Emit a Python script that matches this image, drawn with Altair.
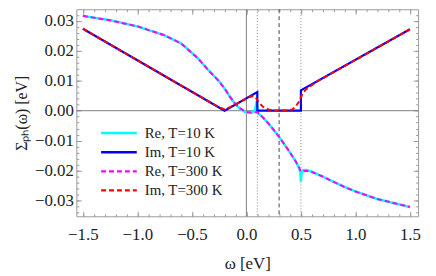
import altair as alt
import pandas as pd

# ---------------- data ----------------
omega_re300 = [-1.5, -1.25, -1.0, -0.75, -0.6, -0.45, -0.35, -0.25, -0.2, -0.15, -0.1, -0.05, 0.0,
               0.05, 0.1, 0.15, 0.2, 0.25, 0.3, 0.35, 0.4, 0.45, 0.48, 0.5, 0.55, 0.6, 0.7, 0.8,
               0.9, 1.0, 1.2, 1.5]
re_300 = [0.0317, 0.0302, 0.0282, 0.0252, 0.0225, 0.0177, 0.0136, 0.0098, 0.0074, 0.0046, 0.0022,
          0.0006, -0.0004, -0.0006, -0.0005, -0.0022, -0.0042, -0.0064, -0.0088, -0.0113, -0.014,
          -0.0168, -0.0187, -0.0203, -0.0201, -0.0205, -0.022, -0.0238, -0.0255, -0.027, -0.0295,
          -0.0322]

omega_re10 = [-1.5, -1.25, -1.0, -0.75, -0.6, -0.45, -0.35, -0.25, -0.2, -0.15, -0.1, -0.05, 0.0,
              0.05, 0.08, 0.095, 0.1, 0.105, 0.15, 0.2, 0.25, 0.3, 0.35, 0.4, 0.45, 0.48, 0.495,
              0.5, 0.505, 0.52, 0.55, 0.6, 0.7, 0.8, 0.9, 1.0, 1.2, 1.5]
re_10 = [0.0317, 0.0302, 0.0282, 0.0252, 0.0225, 0.0177, 0.0136, 0.0098, 0.0074, 0.0046, 0.0021,
         0.0004, -0.0007, -0.0007, 0.0004, 0.0032, 0.0008, -0.0008, -0.0022, -0.0042, -0.0064,
         -0.0088, -0.0113, -0.014, -0.0168, -0.019, -0.0205, -0.0237, -0.0212, -0.0199, -0.0198,
         -0.0204, -0.022, -0.0238, -0.0255, -0.027, -0.0295, -0.0322]

omega_im10 = [-1.5, -0.2, 0.1, 0.1, 0.5, 0.5, 1.5]
im_10 = [0.0274, 0.0, 0.0062, 0.0, 0.0, 0.0068, 0.0272]

omega_im300 = [-1.5, -0.3, -0.25, -0.2, -0.15, -0.1, 0.0, 0.03, 0.06, 0.08, 0.1, 0.12, 0.15, 0.2,
               0.25, 0.3, 0.38, 0.42, 0.45, 0.48, 0.5, 0.52, 0.55, 0.6, 0.65, 1.5]
im_300 = [0.0274, 0.0021, 0.0012, 0.0004, 0.0012, 0.0021, 0.0040, 0.0046, 0.0049, 0.0047, 0.0036,
          0.0025, 0.0014, 0.0004, 0.0001, 0.0, 0.0001, 0.0004, 0.0013, 0.0029, 0.0045, 0.006,
          0.0072, 0.0085, 0.0098, 0.0272]

legend_labels = ["Re, T=10 K", "Im, T=10 K", "Re, T=300 K", "Im, T=300 K"]
legend_colors = ["#00ffff", "#0000ff", "#ff00ff", "#ff0000"]

vline_solid = [0.0]
vline_dotted = [0.1, 0.5]
vline_dashed = [0.3]
hline_zero = [0.0]

x_major = [-1.5, -1.0, -0.5, 0.0, 0.5, 1.0, 1.5]
x_minor = [round(-1.5 + 0.1 * k, 2) for k in range(31)]
y_major = [-0.03, -0.02, -0.01, 0.0, 0.01, 0.02, 0.03]
y_minor = [round(-0.034 + 0.002 * k, 4) for k in range(34)]

# ---------------- layout ----------------
W, H = 345, 209
FONT = "Liberation Serif"
xs = alt.Scale(domain=[-1.56, 1.575], nice=False, zero=False)
ys = alt.Scale(domain=[-0.0353, 0.0339], nice=False, zero=False)
FRAME = "#9a9a9a"


def ax_in(orient, values, size, offset):
    return alt.Axis(orient=orient, offset=offset, values=values, labels=False, domain=False,
                    grid=False, ticks=True, tickSize=size, tickColor=FRAME, tickWidth=1, title="")


def series(w, v):
    return pd.DataFrame({"w": w, "v": v, "i": list(range(len(w)))})


ax_x_labels = alt.Axis(orient="bottom", values=x_major, format=".1f", ticks=False, domain=False,
                       grid=False, labelPadding=10, labelFontSize=17, labelColor="#222",
                       title="ω [eV]", titleFontSize=17, titleFont=FONT, titleFontWeight="normal",
                       titleColor="#222", titlePadding=14, labelFont=FONT)
ax_y_labels = alt.Axis(orient="left", values=y_major, format=".2f", ticks=False, domain=False,
                       grid=False, labelPadding=3, labelFontSize=17, labelColor="#222",
                       title="Σₚₕ(ω) [eV]", titleFontSize=16, titleFont=FONT,
                       titleFontWeight="normal", titleColor="#222", titlePadding=5, labelFont=FONT)

l_v0 = alt.Chart(pd.DataFrame({"w": vline_solid})).mark_rule(color="#808080", strokeWidth=1).encode(
    x=alt.X("w:Q", scale=xs, axis=ax_x_labels))
l_vdot = alt.Chart(pd.DataFrame({"w": vline_dotted})).mark_rule(
    color="#888888", strokeWidth=1, strokeDash=[1, 2]).encode(
    x=alt.X("w:Q", scale=xs, axis=ax_in("top", x_major, 5, -H)))
l_vdash = alt.Chart(pd.DataFrame({"w": vline_dashed})).mark_rule(
    color="#444444", strokeWidth=1, strokeDash=[4, 3]).encode(
    x=alt.X("w:Q", scale=xs, axis=ax_in("top", x_minor, 2.5, -H)))
l_h0 = alt.Chart(pd.DataFrame({"v": hline_zero})).mark_rule(color="#808080", strokeWidth=1).encode(
    y=alt.Y("v:Q", scale=ys, axis=ax_y_labels))

l_cyan = alt.Chart(series(omega_re10, re_10)).mark_line(color="#00ffff", strokeWidth=2.5).encode(
    x=alt.X("w:Q", scale=xs, axis=ax_in("bottom", x_major, 5, -H)),
    y=alt.Y("v:Q", scale=ys, axis=ax_in("right", y_major, 5, -W)),
    order=alt.Order("i:Q"))
l_blue = alt.Chart(series(omega_im10, im_10)).mark_line(color="#0000ff", strokeWidth=2.2).encode(
    x=alt.X("w:Q", scale=xs, axis=ax_in("bottom", x_minor, 2.5, -H)),
    y=alt.Y("v:Q", scale=ys, axis=ax_in("right", y_minor, 2.5, -W)),
    order=alt.Order("i:Q"))
l_mag = alt.Chart(series(omega_re300, re_300)).mark_line(
    color="#ff00ff", strokeWidth=2, strokeDash=[5, 3]).encode(
    x=alt.X("w:Q", scale=xs, axis=None),
    y=alt.Y("v:Q", scale=ys, axis=ax_in("left", y_major, 5, -W)),
    order=alt.Order("i:Q"))
l_red = alt.Chart(series(omega_im300, im_300)).mark_line(
    color="#ff0000", strokeWidth=2, strokeDash=[5, 3]).encode(
    x=alt.X("w:Q", scale=xs, axis=None),
    y=alt.Y("v:Q", scale=ys, axis=ax_in("left", y_minor, 2.5, -W)),
    order=alt.Order("i:Q"))

leg_df = pd.DataFrame({"label": legend_labels, "k": list(range(4))})
leg_base = alt.Chart(leg_df).transform_calculate(py="125 + datum.k * 19.3")
leg_lines = leg_base.mark_rule().encode(
    x=alt.value(25), x2=alt.value(61),
    y=alt.Y("py:Q", scale=None, axis=None),
    color=alt.Color("label:N", scale=alt.Scale(domain=legend_labels, range=legend_colors), legend=None),
    strokeDash=alt.StrokeDash("label:N", scale=alt.Scale(domain=legend_labels,
                                                          range=[[1, 0], [1, 0], [5, 3], [5, 3]]),
                              legend=None),
    strokeWidth=alt.StrokeWidth("label:N", scale=alt.Scale(domain=legend_labels,
                                                            range=[2.5, 2.2, 2, 2]), legend=None))
leg_text = leg_base.mark_text(align="left", baseline="middle", font=FONT, fontSize=15,
                              color="#222").encode(
    x=alt.value(69), y=alt.Y("py:Q", scale=None, axis=None), text="label:N")

chart = alt.layer(l_v0, l_vdot, l_vdash, l_h0, l_cyan, l_blue, l_mag, l_red, leg_lines, leg_text
                  ).resolve_axis(x="independent", y="independent").properties(
    width=W, height=H, autosize=alt.AutoSizeParams(type="none"),
    padding={"left": 69, "top": 0, "right": 10, "bottom": 60}
).configure(font=FONT).configure_view(stroke=FRAME, strokeWidth=1).configure_axis(
    labelFont=FONT, titleFont=FONT)

chart.save("out.html", embed_options={"renderer": "svg", "actions": False})
